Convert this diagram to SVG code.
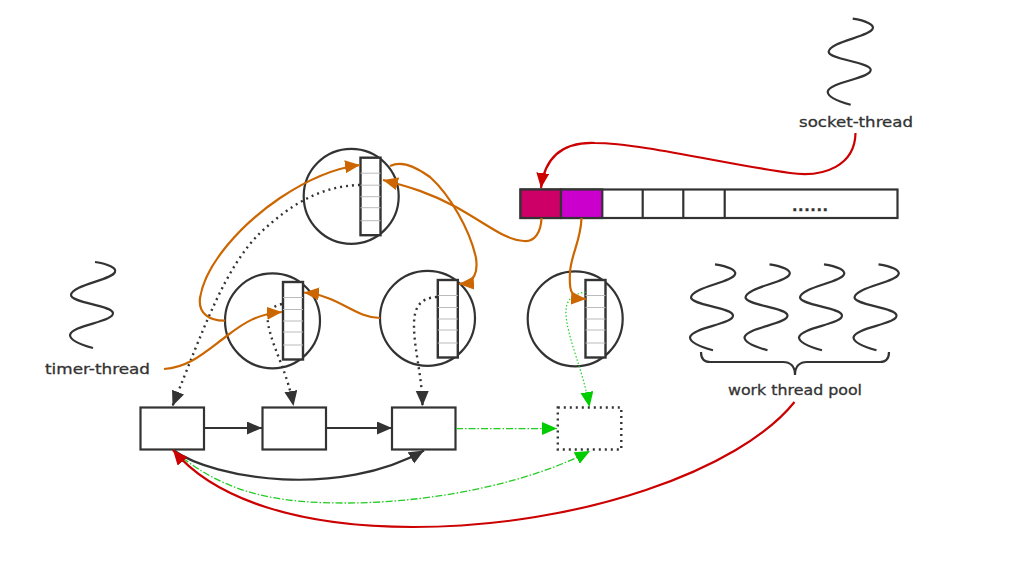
<svg xmlns="http://www.w3.org/2000/svg" xmlns:xlink="http://www.w3.org/1999/xlink" width="1010" height="584" viewBox="0 0 1010 584">
<style>
.c{fill:#fff;stroke:#333;stroke-width:2.2}
.q{fill:#fff;stroke:#333;stroke-width:2.4}
.g{fill:none;stroke:#bbb;stroke-width:1}
.b{fill:#fff;stroke:#333;stroke-width:2.2}
.w{fill:none;stroke:#333;stroke-width:2.2}
.t{font-family:"DejaVu Sans",sans-serif;font-size:14.5px;fill:#333;stroke:#333;stroke-width:.3;text-anchor:middle}
.o{fill:none;stroke:#CC6600;stroke-width:2.2}
.r{fill:none;stroke:#CC0000;stroke-width:2.2}
.d{fill:none;stroke:#333;stroke-width:2.4;stroke-dasharray:2 4}
.k{fill:none;stroke:#333;stroke-width:2.2}
.gd{fill:none;stroke:#22CC22;stroke-width:1.3;stroke-dasharray:7 2 1.5 2}
.gt{fill:none;stroke:#22CC22;stroke-width:1.2;stroke-dasharray:1.5 2}
</style>
<defs>
<marker id="ao" markerUnits="userSpaceOnUse" markerWidth="17" markerHeight="14" refX="15" refY="6.5" orient="auto"><path d="M0 0L15 6.5L0 13Z" fill="#CC6600"/></marker>
<marker id="ar" markerUnits="userSpaceOnUse" markerWidth="17" markerHeight="14" refX="15" refY="6.5" orient="auto"><path d="M0 0L15 6.5L0 13Z" fill="#CC0000"/></marker>
<marker id="ak" markerUnits="userSpaceOnUse" markerWidth="17" markerHeight="14" refX="15" refY="6.5" orient="auto"><path d="M0 0L15 6.5L0 13Z" fill="#333"/></marker>
<marker id="ag" markerUnits="userSpaceOnUse" markerWidth="17" markerHeight="14" refX="15" refY="6.5" orient="auto"><path d="M0 0L15 6.5L0 13Z" fill="#00CC00"/></marker>
<path id="wave" class="w" d="M95 262C108 264 117 268 115 272C112 280 72 285 71 295C71 303 112 305 113 313C114 322 72 325 70 335C70 341 82 345 93 348"/>
<g id="qlines"><path class="g" d="M0 15.5H20M0 27.5H20M0 39H20M0 50H20M0 63H20"/></g>
</defs>

<g id="array">
<rect x="520.5" y="189.5" width="377" height="28.5" class="b"/>
<rect x="520.5" y="189.5" width="40.5" height="28.5" fill="#CC0066" stroke="#333" stroke-width="2.2"/>
<rect x="561" y="189.5" width="41.3" height="28.5" fill="#CC00CC" stroke="#333" stroke-width="2.2"/>
<path d="M642.7 189.5V218M683.3 189.5V218M724.7 189.5V218" fill="none" stroke="#333" stroke-width="2.2"/>
<text x="810" y="210.5" class="t" font-weight="bold" textLength="36">......</text>
</g>

<g id="worker-top"><circle cx="351.2" cy="196.3" r="47.5" class="c"/><rect x="360.5" y="157.7" width="20" height="77.5" class="q"/><use xlink:href="#qlines" href="#qlines" x="360.5" y="157.7"/></g>
<g id="worker-left"><circle cx="272.5" cy="320.8" r="47.5" class="c"/><rect x="283" y="282" width="20" height="77.5" class="q"/><use xlink:href="#qlines" href="#qlines" x="283" y="282"/></g>
<g id="worker-mid"><circle cx="427.5" cy="318.3" r="47.5" class="c"/><rect x="437.8" y="280" width="20" height="77.5" class="q"/><use xlink:href="#qlines" href="#qlines" x="437.8" y="280"/></g>
<g id="worker-right"><circle cx="575.2" cy="318.8" r="47.5" class="c"/><rect x="585.5" y="280" width="20" height="77.5" class="q"/><use xlink:href="#qlines" href="#qlines" x="585.5" y="280"/></g>

<g id="box-1"><rect x="140.5" y="407.5" width="63.5" height="42" class="b"/></g>
<g id="box-2"><rect x="262.5" y="407.5" width="63.5" height="42" class="b"/></g>
<g id="box-3"><rect x="392" y="407.5" width="63.5" height="42" class="b"/></g>
<g id="box-4"><rect x="557.8" y="407.5" width="63.5" height="42" fill="#fff" stroke="#333" stroke-width="2.4" stroke-dasharray="2 4"/></g>

<g id="socket-thread"><use xlink:href="#wave" href="#wave" x="757.7" y="-243.3"/><text x="856" y="127" class="t" textLength="114" lengthAdjust="spacingAndGlyphs">socket-thread</text></g>
<g id="timer-thread"><use xlink:href="#wave" href="#wave"/><text x="97.5" y="374" class="t" textLength="105" lengthAdjust="spacingAndGlyphs">timer-thread</text></g>
<g id="work-thread-pool">
<use xlink:href="#wave" href="#wave" x="620" y="2.3"/>
<use xlink:href="#wave" href="#wave" x="674.5" y="2.3"/>
<use xlink:href="#wave" href="#wave" x="729" y="2.3"/>
<use xlink:href="#wave" href="#wave" x="783.5" y="2.3"/>
<path class="w" d="M701 352C701 358 704 362 710 362H783C790 362 795 366 795 375C795 366 800 362 807 362H880C886 362 889 358 889 352"/>
<text x="795" y="395" class="t" textLength="134" lengthAdjust="spacingAndGlyphs">work thread pool</text>
</g>

<g id="connectors">
<path class="d" marker-end="url(#ak)" d="M360 185C320 186 290 205 260 233C225 268 205 325 172.5 406"/>
<path class="d" marker-end="url(#ak)" d="M282 304C268 307 265 315 270 332C275 352 288 375 293.5 406"/>
<path class="d" marker-end="url(#ak)" d="M437 297C418 298 414 310 414 325C414 350 422 375 422.5 406"/>
<path class="gt" marker-end="url(#ag)" d="M586 292C572 294 565 300 566 315C568 340 583 370 589.5 407"/>
<path class="r" marker-end="url(#ar)" d="M855.5 133C855 165 825 178 790 173C730 165 640 143 595 143C565 142 545 155 541 188"/>
<path class="o" marker-end="url(#ao)" d="M541.5 218C541 232 535 242 524 241C505 240 490 226 456 207C430 193 410 187 383 180"/>
<path class="o" marker-end="url(#ao)" d="M390 166C400 161 412 164 430 177C450 195 470 230 476 258C478 272 475 283 459 284"/>
<path class="o" marker-end="url(#ao)" d="M380 318C355 318 340 296 304 292.5"/>
<path class="o" marker-end="url(#ao)" d="M225 320.7C210 321 198 314 200 298C205 265 240 225 280 198C310 178 335 168 360 165"/>
<path class="o" marker-end="url(#ao)" d="M164 369C190 367 205 352 228 335C245 322 258 314 282 312"/>
<path class="o" marker-end="url(#ao)" d="M581.5 218C581 240 571 255 570 272C569 290 570 298 586 299"/>
<path class="k" marker-end="url(#ak)" d="M204 428H262"/>
<path class="k" marker-end="url(#ak)" d="M326 428H392"/>
<path class="gd" marker-end="url(#ag)" d="M456 428.6H557"/>
<path class="k" marker-end="url(#ak)" d="M173 450C215 480 340 498 424 450.5"/>
<path class="gd" marker-end="url(#ag)" d="M173 450C225 495 280 503 345 503C440 503 535 480 590 451"/>
<path class="r" marker-end="url(#ar)" d="M794.5 402C740 470 580 527 413 527C300 527 215 500 173 450"/>
</g>
</svg>
